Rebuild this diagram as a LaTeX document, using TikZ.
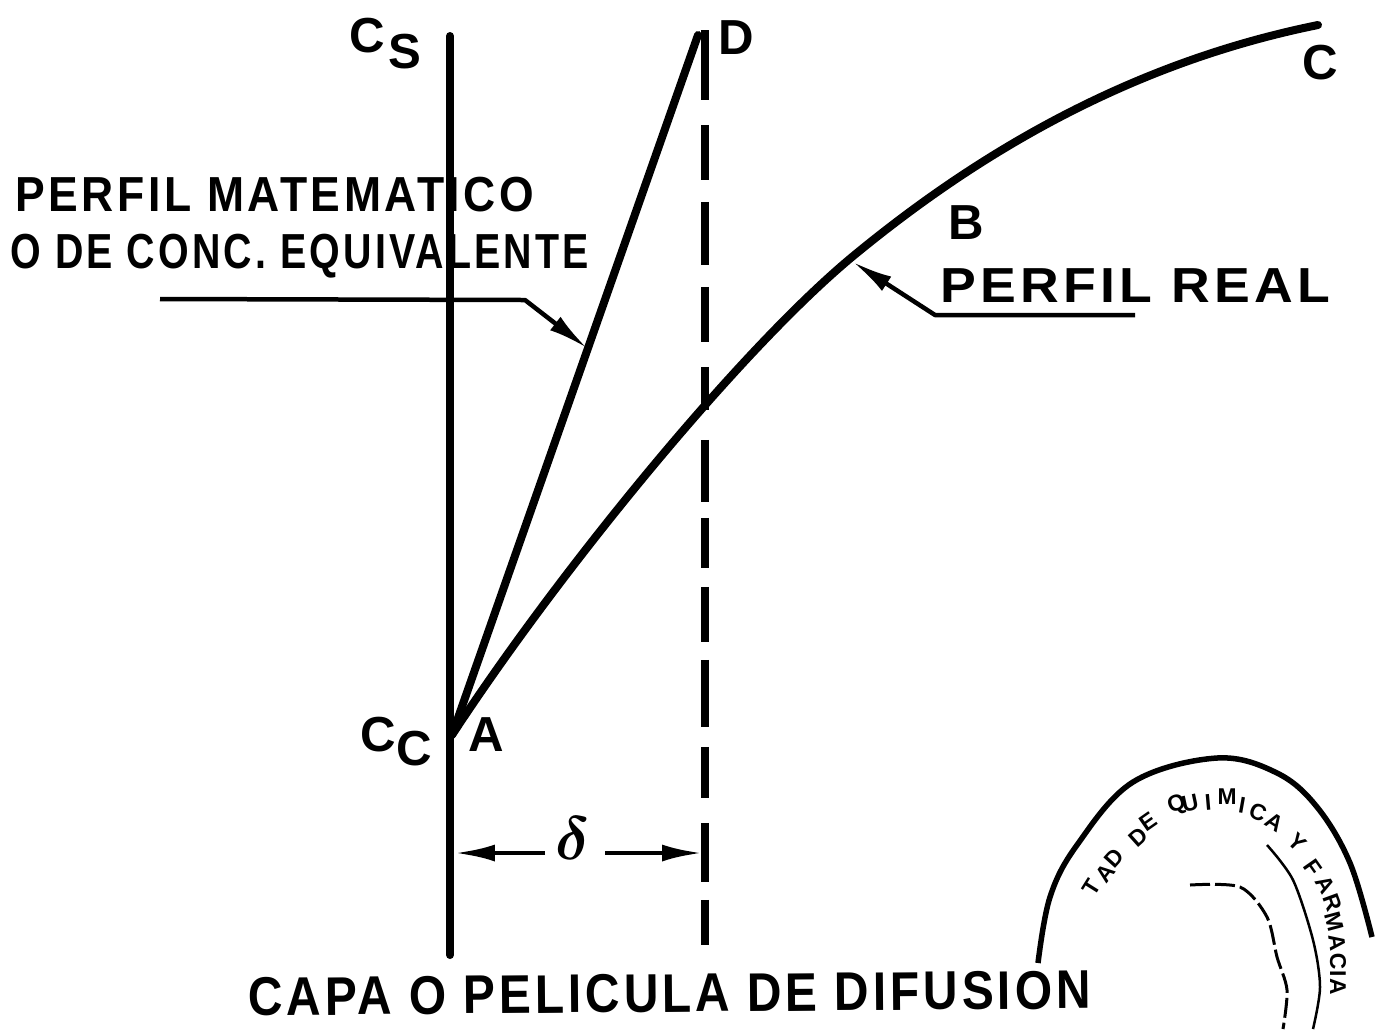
\documentclass[tikz,border=0pt]{standalone}
\usepackage{fontspec}
\setmainfont{Liberation Sans}
\newfontfamily\platefont[LetterSpace=8]{Liberation Sans Bold}
\newfontfamily\stampfont{Liberation Sans Bold}
\usetikzlibrary{
  arrows.meta
}
\definecolor{InkBlack}{RGB}{0,0,0}
\tikzset{
  axisline/.style={draw=InkBlack,line width=1.6mm,line cap=round},
  profileline/.style={draw=InkBlack,line width=1.6mm,line cap=round,line join=round},
  filmline/.style={draw=InkBlack,line width=1.5mm,dash pattern=on 14mm off 5mm on 11mm off 4.4mm on 12.6mm off 4.4mm on 11mm off 5mm on 8.6mm off 6mm on 12.4mm off 3.2mm on 10mm off 3.8mm on 11mm off 3.6mm on 13.4mm off 4mm on 10.2mm off 5mm on 11.8mm off 3.6mm on 9mm off 5mm},
  leader/.style={draw=InkBlack,line width=0.9mm,line join=round,-{Latex[length=8mm,width=3.4mm]}},
  letterlabel/.style={font=\platefont\fontsize{28}{30}\selectfont,inner sep=0pt,text=InkBlack},
  stampletter/.style={font=\stampfont\fontsize{13}{15}\selectfont,inner sep=0pt,text=InkBlack},
  stampline/.style={draw=InkBlack,line width=1.1mm}
}
\begin{document}
\begin{tikzpicture}[x=0.02cm,y=-0.02cm]
\useasboundingbox (0,0) rectangle (1375,1029);
% points of the plate
\coordinate (top) at (450,36);
\coordinate (bottom) at (450,955);
\coordinate (ptA) at (452,735);
\coordinate (ptD) at (698,35);
\coordinate (filmtop) at (705,30);
\coordinate (filmbottom) at (705,945);
\coordinate (ptB) at (852,257);
\coordinate (ptC) at (1318,25);

\draw[axisline] (top) -- (bottom);
\draw[filmline] (filmtop) -- (filmbottom);
\draw[profileline] (ptD) -- (ptA);
\draw[profileline] (ptA) .. controls (560,570) and (740,350) .. (ptB) .. controls (967,162) and (1120,65) .. (ptC);

% labels
\node[letterlabel] (cs) at (367,36) {C};
\node[letterlabel] (csub) at (405,52) {S};
\node[letterlabel] (d) at (736,38) {D};
\node[letterlabel] (c) at (1320,63) {C};
\node[letterlabel] (b) at (966,223) {B};
\node[letterlabel] (a) at (486,735) {A};
\node[letterlabel] (cc) at (378,735) {C};
\node[letterlabel] (ccsub) at (414,749) {C};
\node[letterlabel,anchor=west] (math1) at (15,195) {\scalebox{0.904}[1]{PERFIL MATEMATICO}};
\node[letterlabel,anchor=west] (math2) at (10,256) {\scalebox{0.80}[1]{O DE CONC. EQUIVALENTE}};
\node[letterlabel,anchor=west] (real) at (940,286) {\scalebox{1.09}[1]{PERFIL REAL}};
\node[letterlabel,anchor=west,rotate=0.5,font=\platefont\fontsize{31}{33}\selectfont] (capa) at (248,997) {\scalebox{0.88}[1]{CAPA O PELICULA DE DIFUSION}};
\node[inner sep=0pt,font=\fontsize{62}{64}\selectfont\boldmath] (delta) at (573,838) {\scalebox{1.4}{$\delta$}};

% leaders
\coordinate (mathstart) at (160,299);
\coordinate (mathbend) at (525,300);
\coordinate (mathend) at (587,348);
\coordinate (realstart) at (1135,315);
\coordinate (realbend) at (935,315);
\coordinate (realend) at (853,262);
\coordinate (leftend) at (455,853);
\coordinate (rightend) at (702,853);
\coordinate (leftstart) at (545,853);
\coordinate (rightstart) at (605,853);
\draw[leader] (mathstart) -- (mathbend) -- (mathend);
\draw[leader] (realstart) -- (realbend) -- (realend);
\draw[leader] (leftstart) -- (leftend);
\draw[leader] (rightstart) -- (rightend);

% stamp
\draw[stampline] plot[smooth,tension=0.6] coordinates {(1038,963) (1050,897) (1077,845) (1133,782) (1217,758) (1277,773) (1317,807) (1350,863) (1372,937)};
\draw[draw=InkBlack,line width=0.5mm] plot[smooth] coordinates {(1267,845) (1293,880) (1313,940) (1320,987) (1313,1029)};
\draw[draw=InkBlack,line width=0.6mm,dash pattern=on 4mm off 1mm] plot[smooth] coordinates {(1190,885) (1240,887) (1267,917) (1277,957) (1287,990) (1283,1029)};
\foreach \ltr/\px/\py/\ang in {T/1092/887/58,A/1105/873/52,D/1114/858/48,D/1138/837/42,E/1148/822/35,Q/1177/805/20,U/1190/803/12,I/1208/802/5,M/1227/797/0,I/1242/805/-10,C/1258/812/-22,A/1275/822/-32,Y/1297/842/-45,F/1313/868/-55,A/1325/885/-60,R/1333/903/-70,M/1334/922/-75,A/1337/943/-82,C/1338/961/-88,I/1338/974/-90,A/1338/987/-90}
  \node[stampletter,rotate=\ang] at (\px,\py) {\ltr};
\end{tikzpicture}
\end{document}
